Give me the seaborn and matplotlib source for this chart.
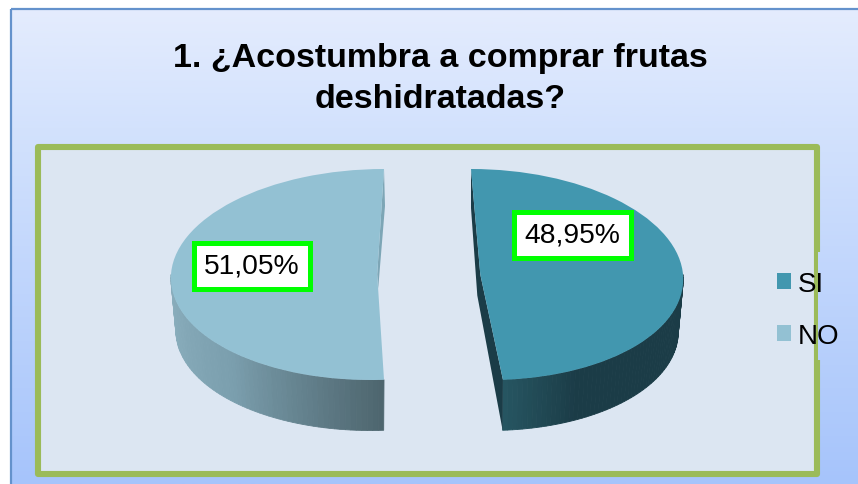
import numpy as np
import matplotlib
matplotlib.use('Agg')
import matplotlib.pyplot as plt
import seaborn as sns
from matplotlib.colors import LinearSegmentedColormap
from matplotlib.patches import Rectangle
from matplotlib.transforms import Affine2D

# Data
labels = ['SI', 'NO']
shares = [48.95, 51.05]
title = '1. ¿Acostumbra a comprar frutas\ndeshidratadas?'

sns.set_style('white')
plt.rcParams['font.family'] = ['Liberation Sans', 'DejaVu Sans']
plt.rcParams['text.color'] = 'black'

top_colors = sns.color_palette(['#4297AF', '#93C1D3'])
wall_colors = [
    sns.blend_palette(['#265561', '#1B3C47', '#1B3C47', '#1B3C47', '#1B3C47'], 60),
    sns.blend_palette(['#8CB0BF', '#7B9FAE', '#4E666F'], 60),
]
cut_colors = ['#1B3C47', '#7DA6B6']

# ellipse of each slice on the picture, in pixels: centre x, radius x, shear
slice_cx = [480.3, 377.2]
slice_rx = [202.7, 206.2]
slice_shear = [-9.3, 6.8]
top_cy, top_ry = 275.5, 105.5
bottom_cy, bottom_ry, bottom_inset = 328, 103.5, 5

fig = plt.figure(figsize=(8.58, 4.85), dpi=100)
ax = fig.add_axes([0, 0, 1, 1])


def rim(i, t, lower=False):
    rx = slice_rx[i] - (bottom_inset if lower else 0)
    cy, ry = (bottom_cy, bottom_ry) if lower else (top_cy, top_ry)
    x = slice_cx[i] + rx * np.cos(t) + slice_shear[i] * np.sin(t)
    y = cy - ry * np.sin(t)
    return x, y


# Top faces
wedges, _ = ax.pie(shares, startangle=90, counterclock=False, colors=top_colors,
                   wedgeprops={'linewidth': 0, 'zorder': 5})
for i, w in enumerate(wedges):
    m = [[slice_rx[i], slice_shear[i], slice_cx[i]],
         [0, -top_ry, top_cy],
         [0, 0, 1]]
    w.set_transform(Affine2D(np.array(m)) + ax.transData)

ax.set_aspect('auto')
ax.axis('off')

# Background
bg = LinearSegmentedColormap.from_list(
    'bg', [(0, '#E4ECFD'), (0.25, '#D3E2FD'), (1, '#A6C4FB')])
grad = np.linspace(0, 1, 256)[:, None]
ax.imshow(grad, cmap=bg, extent=(10, 858, 485, 10), aspect='auto', zorder=0)
ax.add_patch(Rectangle((10.5, 10), 860, 490, fill=False, ec='#6492CC', lw=1.6, zorder=1))
ax.add_patch(Rectangle((38, 148), 779, 327, fc='#DCE6F2', ec='#9BBB59', lw=4.4,
                       joinstyle='round', zorder=2))
gap = ax.imshow(grad, cmap=bg, extent=(10, 858, 485, 10), aspect='auto', zorder=3)
gap.set_clip_path(Rectangle((818, 253), 12, 108, transform=ax.transData))
ax.set_xlim(0, 858)
ax.set_ylim(485, 0)

# Side walls, each one runs from its light end to its dark end
angles = np.radians(90 - np.cumsum([0] + shares) * 3.6)
si_end = angles[1]
wall_ranges = [(si_end, 0), (-np.pi, si_end)]
for i, (a, b) in enumerate(wall_ranges):
    ts = np.linspace(a, b, len(wall_colors[i]) + 1)
    for j, color in enumerate(wall_colors[i]):
        x1, y1 = rim(i, ts[j])
        x2, y2 = rim(i, ts[j + 1])
        x3, y3 = rim(i, ts[j + 1], True)
        x4, y4 = rim(i, ts[j], True)
        ax.fill([x1, x2, x3, x4], [y1, y2, y3, y4], color=color, lw=0.6, zorder=4)

# Cut faces seen through the gap between the slices
xs, ys = rim(0, np.pi / 2)
xe, ye = rim(0, si_end)
xl, yl = rim(0, si_end, True)
ax.fill([xs, xs, slice_cx[0] - 3, xl, xe, slice_cx[0]],
        [ys, ys + 39, top_cy + 21, yl, ye, top_cy],
        color=cut_colors[0], lw=0, zorder=4)
xs, ys = rim(1, np.pi / 2)
ax.fill([xs, xs + 1, slice_cx[1] + 1, slice_cx[1]],
        [ys, ys + 37, top_cy + 14, top_cy],
        color=cut_colors[1], lw=0, zorder=4)

# Data labels
label_pos = [(572.5, 236), (252, 267)]
for (x, y), v in zip(label_pos, shares):
    ax.text(x, y, f'{v:.2f}%'.replace('.', ','), fontsize=20.3, ha='center', va='center',
            zorder=6,
            bbox={'boxstyle': 'square,pad=0.37', 'fc': 'white', 'ec': '#00FF00', 'lw': 3.6})

ax.text(440, 79, title, fontsize=24.5, fontweight='bold', ha='center', va='center',
        linespacing=1.42, zorder=6)

leg = ax.legend(wedges, labels, loc='center left', bbox_to_anchor=(752, 311),
                bbox_transform=ax.transData, frameon=False, fontsize=20,
                handlelength=0.52, handleheight=0.52, handletextpad=0.22, labelspacing=0.95)
leg.set_zorder(6)

fig.savefig('out.png', dpi=100)
